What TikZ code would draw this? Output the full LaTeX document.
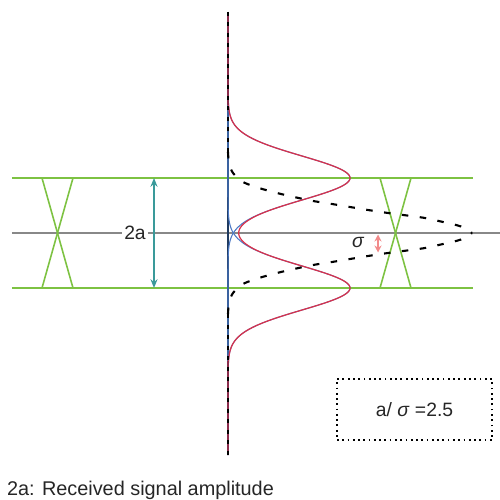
\documentclass[tikz,border=0pt]{standalone}
\usepackage{fontspec}
\setmainfont{Liberation Sans}
\usetikzlibrary{arrows.meta}
\definecolor{Rail}{HTML}{7DC242}
\definecolor{Axis}{HTML}{1F3A5F}
\definecolor{AxisTail}{HTML}{8A2C4C}
\definecolor{Sum}{HTML}{D7324C}
\definecolor{Single}{HTML}{4A78C4}
\definecolor{Span}{HTML}{3A9A9A}
\definecolor{Spread}{HTML}{F28A8A}
\definecolor{Base}{HTML}{888888}

\tikzset{
  rail/.style={Rail,line width=1.0pt},
  eye/.style={Rail,line width=0.9pt},
  tail/.style={black,line width=1.2pt,dash pattern=on 0.13cm off 0.23cm},
  lbl/.style={font=\fontsize{10.5}{12}\selectfont,text=black!85,inner sep=1pt}
}

\begin{document}
\begin{tikzpicture}[x=1cm,y=1cm,>=stealth]
\useasboundingbox (-4.56,-5.34) rectangle (5.44,4.66);
% base line and rails
\draw[Base,line width=0.9pt] (-4.32,0) -- (5.44,0);
\draw[rail] (-4.32,1.1) -- (4.90,1.1);
\draw[rail] (-4.32,-1.1) -- (4.90,-1.1);
% eye openings
\draw[eye] (-3.72,1.1) -- (-3.10,-1.1);
\draw[eye] (-3.10,1.1) -- (-3.72,-1.1);
\draw[eye] (3.04,1.1) -- (3.66,-1.1);
\draw[eye] (3.66,1.1) -- (3.04,-1.1);
% amplitude marker
\coordinate (ampTop) at (-1.48,1.1);
\coordinate (ampBot) at (-1.48,-1.1);
\draw[Span,line width=0.8pt,{Stealth[length=5pt,width=4pt]}-{Stealth[length=5pt,width=4pt]}] (ampTop) -- (ampBot);
\node[lbl,fill=white,font=\fontsize{11}{12}\selectfont] (ampLbl) at (-1.86,0) {2a};
% axis
\draw[Axis,line width=1.2pt] (0,4.42) -- (0,-4.44);
% single distributions
\draw[Single,line width=0.6pt] plot[domain=-4.44:4.42,samples=300,variable=\t]
  ({2.44*exp(-(\t-1.1)*(\t-1.1)/0.3872)},\t);
\draw[Single,line width=0.6pt] plot[domain=-4.44:4.42,samples=300,variable=\t]
  ({2.44*exp(-(\t+1.1)*(\t+1.1)/0.3872)},\t);
% summed distribution
\draw[Sum,line width=0.7pt] plot[domain=-4.44:4.42,samples=400,variable=\t]
  ({2.44*(exp(-(\t-1.1)*(\t-1.1)/0.3872)+exp(-(\t+1.1)*(\t+1.1)/0.3872))},\t);
\draw[AxisTail,line width=1.2pt] (0,4.42) -- (0,2.55);
\draw[AxisTail,line width=1.2pt] (0,-2.55) -- (0,-4.44);
% error tail
\draw[black,line width=1.2pt,dash pattern=on 0.08cm off 0.13cm] (0,4.42) -- (0,1.62);
\draw[black,line width=1.2pt,dash pattern=on 0.08cm off 0.13cm] (0,-1.62) -- (0,-4.44);
\draw[tail] plot[smooth,tension=0.5] coordinates {(0,1.62) (0.02,1.40) (0.10,1.20) (0.30,1.02) (0.62,0.90) (0.98,0.80) (1.32,0.72) (1.70,0.64) (2.08,0.58) (2.44,0.52) (2.80,0.46) (3.20,0.40) (3.58,0.35) (3.94,0.30) (4.30,0.22) (4.66,0.13) (4.88,0)};
\draw[tail] plot[smooth,tension=0.5] coordinates {(0,-1.62) (0.02,-1.40) (0.10,-1.20) (0.30,-1.02) (0.62,-0.90) (0.98,-0.80) (1.32,-0.72) (1.70,-0.64) (2.08,-0.58) (2.44,-0.52) (2.80,-0.46) (3.20,-0.40) (3.58,-0.35) (3.94,-0.30) (4.30,-0.22) (4.66,-0.13) (4.88,0)};
% sigma marker
\coordinate (sigTop) at (3.0,-0.03);
\coordinate (sigBot) at (3.0,-0.39);
\draw[Spread,line width=0.8pt,{Stealth[length=4pt,width=4pt]}-{Stealth[length=4pt,width=4pt]}] (sigTop) -- (sigBot);
\node[lbl,font=\fontsize{11}{12}\selectfont\itshape] (sigLbl) at (2.6,-0.19) {σ};
% ratio box
\node[draw=black,line width=1.0pt,dotted,minimum width=3.1cm,minimum height=1.22cm,font=\fontsize{11}{13}\selectfont,text=black!85] (ratio) at (3.73,-3.53) {a/ \textit{σ} =2.5};
% caption
\node[lbl,anchor=west,font=\fontsize{11.3}{13}\selectfont] (caption) at (-4.46,-5.14) {2a: Received signal amplitude};
\end{tikzpicture}
\end{document}
